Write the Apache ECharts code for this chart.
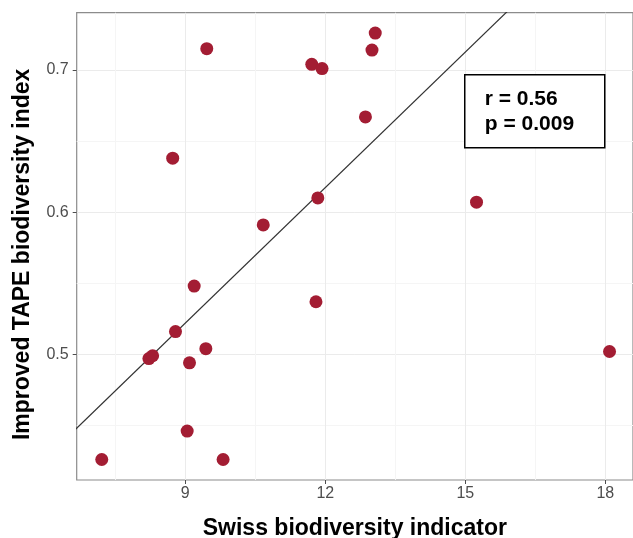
<!DOCTYPE html>
<html>
<head>
<meta charset="utf-8">
<script src="https://cdn.jsdelivr.net/npm/echarts@6/dist/echarts.min.js"></script>
<style>
  html, body { margin: 0; padding: 0; background: #fff; }
  #chart { width: 633px; height: 538px; }
</style>
</head>
<body>
<div id="chart"></div>
<script>
// swiss indicator (x) vs improved TAPE index (y)
const swissVals = [9.46, 8.73, 10.67, 11.71, 11.93, 13.07, 13.0, 12.86, 11.84, 15.24, 9.19,
  11.8, 8.79, 8.22, 8.3, 9.44, 9.09, 9.04, 7.21, 9.81, 18.09];
const tapeVals = [0.715, 0.638, 0.591, 0.704, 0.701, 0.726, 0.714, 0.667, 0.610, 0.607, 0.548,
  0.537, 0.516, 0.497, 0.499, 0.504, 0.494, 0.446, 0.426, 0.426, 0.502];

// fitted line endpoints (from the picture)
const fitX = [6.6, 15.9];
const fitY = [0.4457, 0.7412];

const xTicks = [9, 12, 15, 18];
const xMinor = [7.5, 10.5, 13.5, 16.5];
const yTicks = [0.5, 0.6, 0.7];
const yMinor = [0.45, 0.55, 0.65];

const xRange = [6.673, 18.593];
const yRange = [0.4116, 0.7403];

const chart = echarts.init(document.getElementById('chart'));

let points = swissVals.map((v, i) => [v, tapeVals[i]]);
let fitLine = fitX.map((v, i) => [v, fitY[i]]);

const fontFam = '"Liberation Sans", Arial, sans-serif';

function majorAxis(values, extra) {
  return Object.assign({
    type: 'value',
    axisLine: { show: false },
    axisTick: { show: true, length: 4, customValues: values, lineStyle: { color: '#4D4D4D', width: 1 } },
    axisLabel: { customValues: values, color: '#4D4D4D', fontSize: 16, fontFamily: fontFam },
    splitLine: { show: true, lineStyle: { color: '#EBEBEB', width: 1 } }
  }, extra);
}

function minorAxis(values, extra) {
  return Object.assign({
    type: 'value',
    axisLine: { show: false },
    axisTick: { show: false, customValues: values },
    axisLabel: { show: false, customValues: values },
    splitLine: { show: true, lineStyle: { color: '#F5F5F5', width: 1 } }
  }, extra);
}

var option = {
  animation: false,
  backgroundColor: '#fff',
  grid: {
    left: 76.7,
    top: 12.7,
    right: 0,
    bottom: 58,
    outerBoundsMode: 'none',
    containLabel: false,
    show: true,
    borderColor: '#8C8C8C',
    borderWidth: 1.2,
    backgroundColor: 'transparent'
  },
  xAxis: [
    majorAxis(xTicks, {
      min: xRange[0], max: xRange[1],
      axisLabel: { customValues: xTicks, color: '#4D4D4D', fontSize: 16, fontFamily: fontFam, margin: 6 },
      name: 'Swiss biodiversity indicator',
      nameLocation: 'middle',
      nameGap: 37,
      nameTextStyle: { color: '#000', fontSize: 23, fontWeight: 'bold', fontFamily: fontFam }
    }),
    minorAxis(xMinor, { min: xRange[0], max: xRange[1], position: 'bottom' })
  ],
  yAxis: [
    majorAxis(yTicks, {
      min: yRange[0], max: yRange[1],
      axisLabel: { customValues: yTicks, color: '#4D4D4D', fontSize: 16, fontFamily: fontFam, margin: 8 },
      name: 'Improved TAPE biodiversity index',
      nameLocation: 'middle',
      nameGap: 43,
      nameTextStyle: { color: '#000', fontSize: 23, fontWeight: 'bold', fontFamily: fontFam, padding: [0, 16, 0, 0] }
    }),
    minorAxis(yMinor, { min: yRange[0], max: yRange[1], position: 'left' })
  ],
  graphic: [
    {
      type: 'group',
      left: 464,
      top: 74,
      z: 100,
      children: [
        { type: 'rect', z: 100, shape: { x: 0, y: 0, width: 140, height: 73 },
          style: { fill: '#fff', stroke: '#000', lineWidth: 1.5 } },
        { type: 'text', z: 101, x: 20, y: 24,
          style: { text: 'r = 0.56', fill: '#000', font: 'bold 21px ' + fontFam, verticalAlign: 'middle' } },
        { type: 'text', z: 101, x: 20, y: 49,
          style: { text: 'p = 0.009', fill: '#000', font: 'bold 21px ' + fontFam, verticalAlign: 'middle' } }
      ]
    }
  ],
  series: [
    {
      type: 'line',
      data: fitLine,
      symbol: 'none',
      clip: true,
      lineStyle: { color: '#333', width: 1.2 },
      z: 2
    },
    {
      type: 'scatter',
      data: points,
      symbolSize: 13,
      itemStyle: { color: '#A31D33', opacity: 1 },
      z: 3
    }
  ]
};
chart.setOption(option);
</script>
</body>
</html>
